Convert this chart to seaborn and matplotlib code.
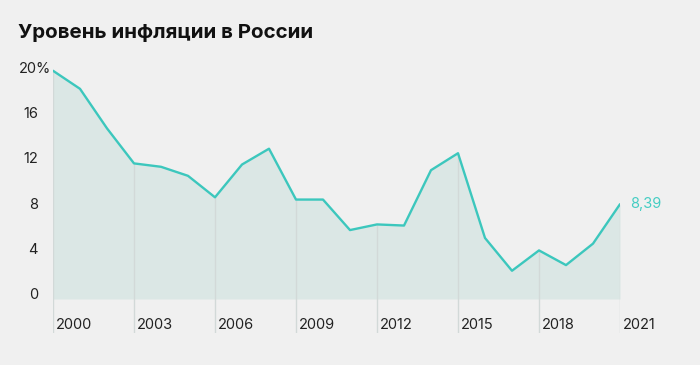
import matplotlib
matplotlib.use("Agg")
import matplotlib.pyplot as plt
import seaborn as sns
import pandas as pd

years = list(range(2000, 2022))
inflation = [20.2, 18.6, 15.1, 12.0, 11.7, 10.9, 9.0, 11.9, 13.3, 8.8, 8.8,
             6.1, 6.6, 6.5, 11.4, 12.9, 5.4, 2.5, 4.3, 3.0, 4.9, 8.39]
tick_years = [2000, 2003, 2006, 2009, 2012, 2015, 2018, 2021]
y_ticks = [0, 4, 8, 12, 16, 20]
title = "Уровень инфляции в России"
last_label = "8,39"

df = pd.DataFrame({"year": years, "value": inflation})

sns.set_theme(style="white")
plt.rcParams["font.family"] = ["Inter", "DejaVu Sans"]

BG = "#f0f0f0"
LINE = "#3cc7bd"
FILL = "#dbe7e5"
GRID = "#d2d9d8"
TXT = "#222222"

fig = plt.figure(figsize=(7, 3.65), dpi=100, facecolor=BG)
# axes: x 53..620 px, y 60..333 px
ax = fig.add_axes([53 / 700, (365 - 333) / 365, 567 / 700, (333 - 60) / 365])
ax.set_facecolor("none")
ax.set_xlim(2000, 2021)
ylo = -(333 - 299) / 11.3
yhi = (299 - 60) / 11.3
ax.set_ylim(ylo, yhi)
for s in ax.spines.values():
    s.set_visible(False)
ax.set_xticks([])
ax.set_yticks([])

ax.fill_between(df["year"], 0, df["value"], color=FILL, lw=0, zorder=1)
vals = dict(zip(years, inflation))
for ty in tick_years:
    ax.plot([ty, ty], [ylo, vals[ty]], color=GRID, lw=1, zorder=2,
            solid_capstyle="butt")
sns.lineplot(data=df, x="year", y="value", ax=ax, color=LINE, lw=1.7, zorder=3)
ax.set_xlabel("")
ax.set_ylabel("")

# x labels
for ty in tick_years:
    ax.text(ty + 0.12, -(325 - 299) / 11.3, str(ty), ha="left", va="center",
            fontsize=10.5, color=TXT)
# y labels
for yt in y_ticks:
    yy = yt + 0.35
    if yt == 20:
        ax.text(2000 - 34 / 27, yy, f"{yt}%", ha="left", va="center",
                fontsize=10.5, color=TXT)
    else:
        ax.text(2000 - 15 / 27, yy, str(yt), ha="right", va="center",
                fontsize=10.5, color=TXT)

ax.text(2021 + 10 / 27, inflation[-1] + 0.05, last_label, ha="left", va="center",
        fontsize=10.5, color="#45cdc3")

fig.text(18 / 700, 1 - 33 / 365, title, ha="left", va="center",
         fontsize=14.8, fontweight="bold", color="#111111")

fig.savefig("out.png", dpi=100, facecolor=BG)
